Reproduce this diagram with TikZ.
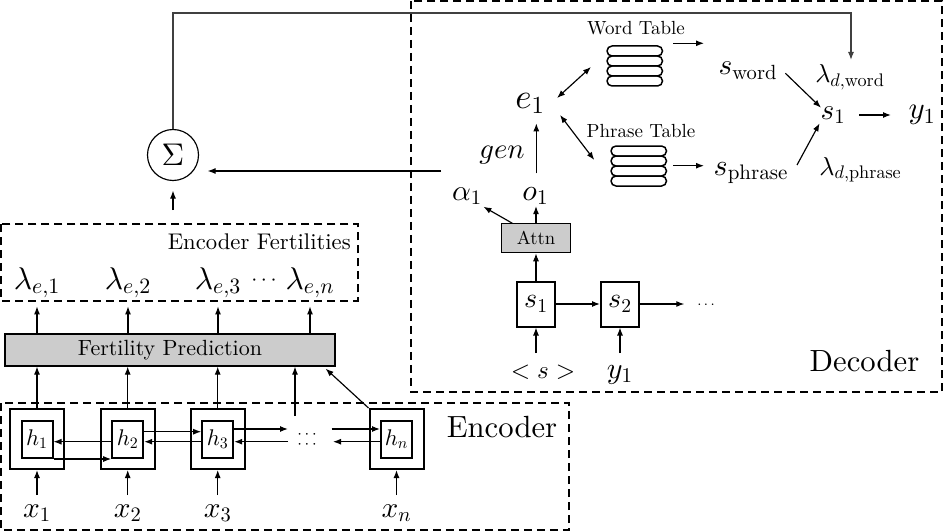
\documentclass[tikz,border=0pt]{standalone}
\usepackage[no-math]{fontspec}
\setmainfont{lmroman10-regular.otf}
\DeclareFontShape{OML}{cmm}{m}{it}{<->cmmi10}{}
\DeclareFontShape{OMS}{cmsy}{m}{n}{<->cmsy10}{}
\DeclareFontShape{OT1}{cmr}{m}{n}{<->cmr10}{}
\usetikzlibrary{arrows.meta}
\newcommand\fsz[1]{\fontsize{#1}{#1}\selectfont}
\begin{document}
\begin{tikzpicture}[x=0.6pt,y=-0.6pt,
  arr/.style={-{Latex[length=4.8pt,width=3.6pt]}, line width=0.7pt},
  darr/.style={{Latex[length=4.8pt,width=3.6pt]}-{Latex[length=4.8pt,width=3.6pt]}, line width=0.7pt},
  fb/.style={-{Latex[length=4.8pt,width=3.6pt]}, line width=0.7pt, draw=black!75},
  dashframe/.style={draw, dash pattern=on 4.8pt off 3pt, line width=1.2pt},
  cellout/.style={draw, line width=1.2pt, minimum width=32.4pt, minimum height=36pt, inner sep=0pt},
  cellin/.style={draw, line width=1.2pt, minimum width=18.6pt, minimum height=22.2pt, inner sep=0pt, font={\fsz{13.6}}},
  graybox/.style={draw, fill=gray!40, line width=0.7pt, inner sep=0pt},
  sbox/.style={draw, line width=1.2pt, minimum width=22.8pt, minimum height=27pt, inner sep=0pt, font={\fsz{16.8}}},
  pill/.style={draw, line width=0.9pt, rounded corners=3pt},
  lab/.style={anchor=base, inner sep=1.2pt},
]
\useasboundingbox (0,0) rectangle (944,532);

% ---------- frames
\draw[dashframe] (1,403) rectangle (569,530);
\draw[dashframe] (411,1) rectangle (942,392);
\draw[dashframe] (1,224) rectangle (358,300.7);

% ---------- encoder cells
\foreach \n/\x in {1/37, 2/127.7, 3/217.7, n/396.5} {
  \node[cellout] (c\n) at (\x,439) {};
  \node[cellin] (h\n) at (\x,439) {$h_\n$};
  \node[lab, font={\fsz{17.6}}] (x\n) at (\x,517) {$x_\n$};
  \draw[arr] (c\n.south |- 0,495) -- (c\n.south);
}
\node[anchor=base, inner sep=0pt, font={\fsz{10}}] (dd) at (307,448.2)
  {\vbox{\baselineskip=6pt\lineskiplimit=-20pt\hbox{$\cdots$}\hbox{$\cdots$}}};
\coordinate (dAl) at (288,429);
\coordinate (dAr) at (331.5,429);
\coordinate (dBl) at (288,441.7);
\coordinate (dBr) at (333,441.7);

% forward
\draw[arr] (h1.east |- 0,459) -- (h2.west |- 0,459);
\draw[arr] (h2.east |- 0,431.7) -- (h3.west |- 0,431.7);
\draw[arr] (h3.east |- 0,429) -- (dAl);
\draw[arr] (dAr) -- (hn.west |- 0,429);
% backward
\draw[arr] (h2.west |- 0,441.7) -- (h1.east |- 0,441.7);
\draw[arr] (h3.west |- 0,441.7) -- (h2.east |- 0,441.7);
\draw[arr] (hn.west |- 0,441.7) -- (dBr);
\draw[arr] (dBl) -- (h3.east |- 0,441.7);

\node[lab, font={\fsz{18.4}}] (enc) at (502,437) {Encoder};

% ---------- fertility prediction
\node[graybox, minimum width=198pt, minimum height=19.2pt, font={\fsz{13.2}}] (fp) at (170,350) {Fertility Prediction};
\foreach \n in {1,2,3} {\draw[arr] (c\n.north) -- (c\n.north |- fp.south);}
\coordinate (dcol) at (295,416);
\draw[arr] (dcol) -- (dcol |- fp.south);
\draw[arr] (cn.north west) -- ([xshift=-6pt,yshift=-1.2pt]fp.south east);

% ---------- encoder fertilities
\foreach \n/\x in {1/37, 2/128, 3/218, n/310} {
  \node[lab, font={\fsz{18.8}}] (le\n) at (\x,289) {$\lambda_{e,\n}$};
  \draw[arr] (fp.north -| le\n) -- ++(0,-27);
}
\node[inner sep=0pt, font={\fsz{13}}] (ldots) at (264,281) {$\cdots$};
\node[anchor=base east, inner sep=0pt, font={\fsz{13.6}}] (eflab) at (351,249) {Encoder Fertilities};

% ---------- sum
\node[circle, draw, line width=0.7pt, minimum size=30.6pt, inner sep=0pt, font={\fsz{18.8}}] (sig) at (173,155) {$\Sigma$};
\draw[arr, shorten <=8.4pt, shorten >=5.7pt] (sig.south |- 0,224) -- (sig.south);

% ---------- decoder
\node[lab, font={\fsz{11.4}}] (wtl) at (636,35) {Word Table};
\node[inner sep=0pt, minimum width=33.3pt, minimum height=24pt] (wt) at (634.7,66) {};
\foreach \i in {0,...,3} {\draw[pill] (607,46+\i*10) rectangle (662.5,56+\i*10);}
\node[lab, font={\fsz{11.4}}] (ptl) at (641,137) {Phrase Table};
\node[inner sep=0pt, minimum width=33.3pt, minimum height=24pt] (pt) at (638.7,166) {};
\foreach \i in {0,...,3} {\draw[pill] (611,146+\i*10) rectangle (666.5,156+\i*10);}

\node[lab, font={\fsz{17.6}}] (sw) at (748,75) {$s_{\mathrm{word}}$};
\node[lab, font={\fsz{18}}] (sp) at (751,175) {$s_{\mathrm{phrase}}$};
\node[lab, font={\fsz{15.6}}] (ldw) at (850,83) {$\lambda_{d,\mathrm{word}}$};
\node[lab, font={\fsz{15.6}}] (ldp) at (860.5,175) {$\lambda_{d,\mathrm{phrase}}$};
\node[lab, font={\fsz{17.6}}] (so) at (833,119.3) {$s_1$};
\node[lab, font={\fsz{18.5}}] (yo) at (922,119) {$y_1$};
\node[lab, font={\fsz{21}}] (e1) at (530,108.3) {$e_1$};
\node[lab, font={\fsz{17.2}}] (gen) at (502,158.3) {$gen$};
\node[lab, font={\fsz{17.6}}] (al) at (467,200) {$\alpha_1$};
\node[lab, font={\fsz{18}}] (o1) at (535.4,200) {$o_1$};
\node[graybox, minimum width=41.4pt, minimum height=17.6pt, font={\fsz{11.2}}] (attn) at (536,238) {Attn};
\node[sbox] (ds1) at (536,304) {$s_1$};
\node[sbox] (ds2) at (620,304) {$s_2$};
\node[inner sep=0pt, font={\fsz{9}}] (ddots) at (706,305) {$\cdots$};
\node[lab, font={\fsz{15}}] (bos) at (543,378) {$<s>$};
\node[lab, font={\fsz{18}}] (dy1) at (620,378.3) {$y_1$};
\node[lab, font={\fsz{18.4}}] (dec) at (864.5,371.7) {Decoder};

% free connector ends
\coordinate (ew1) at (557,98);   \coordinate (ew2) at (591,67);
\coordinate (ep1) at (560,115);  \coordinate (ep2) at (594.3,160);
\coordinate (wo1) at (673,43.3); \coordinate (wo2) at (704,43.3);
\coordinate (po1) at (673,165.7);\coordinate (po2) at (704,165.7);
\coordinate (sw1) at (785.4,73.3); \coordinate (sw2) at (821,107.7);
\coordinate (sp1) at (797,165);  \coordinate (sp2) at (819.6,123.3);
\coordinate (sy1) at (859,115);  \coordinate (sy2) at (891,115);
\coordinate (oe1) at (536.3,173.3); \coordinate (oe2) at (536.3,123.3);
\coordinate (aa1) at (512.4,223.3); \coordinate (aa2) at (483.4,206.7);
\coordinate (gsrc) at (441,171);

\draw[darr] (ew1) -- (ew2);
\draw[darr] (ep1) -- (ep2);
\draw[arr] (wo1) -- (wo2);
\draw[arr] (po1) -- (po2);
\draw[arr] (sw1) -- (sw2);
\draw[arr] (sp1) -- (sp2);
\draw[arr] (sy1) -- (sy2);
\draw[arr] (oe1) -- (oe2);
\draw[arr] (attn.north) -- ++(0,-16.6);
\draw[arr] (aa1) -- (aa2);
\draw[arr] (ds1.north) -- (attn.south);
\draw[arr] (ds1.east) -- (ds2.west);
\draw[arr] (ds2.east) -- ++(44.3,0);
\draw[arr] (ds1.south |- 0,353) -- (ds1.south);
\draw[arr] (ds2.south |- 0,353) -- (ds2.south);

% ---------- feedback lines
\draw[arr, shorten >=5.1pt] (gsrc) -- (sig.east |- gsrc);
\draw[fb] (sig.north) -- (sig.north |- 0,13) -| (851,60);
\end{tikzpicture}
\end{document}
